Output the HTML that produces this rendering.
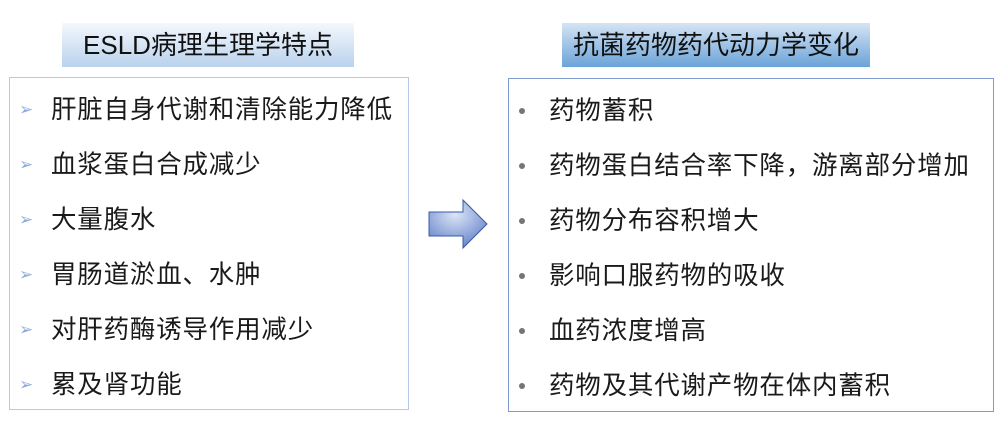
<!DOCTYPE html>
<html><head><meta charset="utf-8"><style>
body{margin:0;width:996px;height:422px;background:#fff;position:relative;overflow:hidden;font-family:"Liberation Sans","Noto Sans CJK SC",sans-serif;color:#111}
.t{position:absolute;font-size:26px;line-height:44px;text-align:center;white-space:nowrap}
.box{position:absolute;box-sizing:border-box}
.it{position:absolute;font-size:25.5px;letter-spacing:0.8px;line-height:30px;white-space:nowrap;color:#1a1a1a}
.ar{position:absolute;font-size:17px;color:#8fa9dc;line-height:30px}
.dot{position:absolute;width:6px;height:6px;border-radius:50%;background:#7a7370}
</style></head><body>
<div class="t" style="left:62px;top:23px;width:292px;height:44px;background:linear-gradient(#f4f8fd,#b9d2ec)">ESLD病理生理学特点</div>
<div class="t" style="left:562px;top:23px;width:308px;height:44px;background:linear-gradient(#d5e4f4,#6aa3d8)">抗菌药物药代动力学变化</div>
<div class="box" style="left:9px;top:77px;width:400px;height:333px;border:1.5px solid #b7c9eb"></div>
<div class="box" style="left:508px;top:78px;width:486px;height:334px;border:1.5px solid #7e9bd0"></div>
<svg style="position:absolute;left:0;top:0" width="996" height="422">
<defs><radialGradient id="g" cx="0.45" cy="0.3" r="0.8"><stop offset="0" stop-color="#dbe5f6"/><stop offset="1" stop-color="#5878c4"/></radialGradient></defs>
<polygon points="429,212 463,212 463,200 487,224 463,248 463,236 429,236" fill="url(#g)" stroke="#3a5aa8" stroke-width="1"/>
</svg>
<div class="ar" style="left:19px;top:95px">➢</div><div class="it" style="left:51px;top:95px">肝脏自身代谢和清除能力降低</div>
<div class="ar" style="left:19px;top:150px">➢</div><div class="it" style="left:51px;top:150px">血浆蛋白合成减少</div>
<div class="ar" style="left:19px;top:205px">➢</div><div class="it" style="left:51px;top:205px">大量腹水</div>
<div class="ar" style="left:19px;top:260px">➢</div><div class="it" style="left:51px;top:260px">胃肠道淤血、水肿</div>
<div class="ar" style="left:19px;top:315px">➢</div><div class="it" style="left:51px;top:315px">对肝药酶诱导作用减少</div>
<div class="ar" style="left:19px;top:370px">➢</div><div class="it" style="left:51px;top:370px">累及肾功能</div>
<div class="dot" style="left:519px;top:108px"></div><div class="it" style="left:549px;top:96px">药物蓄积</div>
<div class="dot" style="left:519px;top:163px"></div><div class="it" style="left:549px;top:151px">药物蛋白结合率下降，游离部分增加</div>
<div class="dot" style="left:519px;top:218px"></div><div class="it" style="left:549px;top:206px">药物分布容积增大</div>
<div class="dot" style="left:519px;top:273px"></div><div class="it" style="left:549px;top:261px">影响口服药物的吸收</div>
<div class="dot" style="left:519px;top:328px"></div><div class="it" style="left:549px;top:316px">血药浓度增高</div>
<div class="dot" style="left:519px;top:383px"></div><div class="it" style="left:549px;top:371px">药物及其代谢产物在体内蓄积</div>
</body></html>
